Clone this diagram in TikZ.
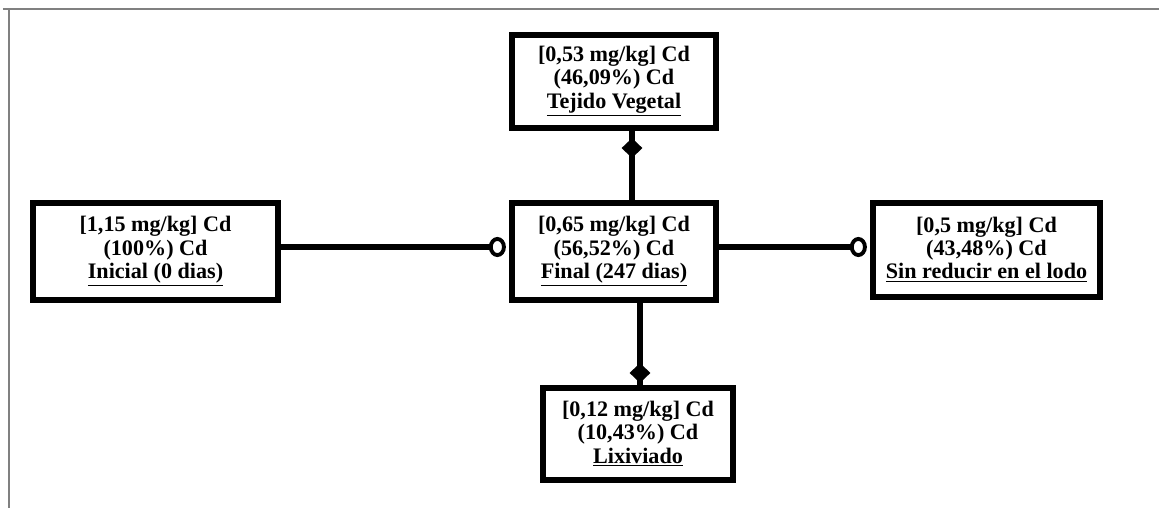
\documentclass[tikz,border=0pt]{standalone}
\usepackage{fontspec}
\setmainfont{Liberation Serif}
\usetikzlibrary{arrows.meta,shapes.geometric}
\begin{document}
\begin{tikzpicture}[>=latex,scale=1,
    caja/.style={draw,line width=3pt,align=center,font=\bfseries\fontsize{12.6}{13.2}\selectfont,inner sep=2pt},
    enlace/.style={line width=3pt},
    punta/.style={diamond,fill=black,inner sep=0pt,minimum width=0.46cm,minimum height=0.44cm},
    anillo/.style={-{Circle[open,length=0.34cm,width=0.4cm,line width=2.2pt]},shorten >=2pt}]
        \useasboundingbox(0,0)rectangle(23.18,-10.16);
        \draw[gray,line width=1.2pt](0.06,-0.18)--(23.18,-0.18)(0.18,-0.18)--(0.18,-10.16);
        \node[caja,minimum width=4.08cm,minimum height=1.86cm](tejido)at(12.28,-1.63){[0,53 mg/kg] Cd\\(46,09\%) Cd\\\underline{Tejido Vegetal}};
        \node[caja,minimum width=4.9cm,minimum height=1.94cm](inicial)at(3.11,-5.03){[1,15 mg/kg] Cd\\(100\%) Cd\\\underline{Inicial (0 dias)}};
        \node[caja,minimum width=4.08cm,minimum height=1.94cm](final)at(12.28,-5.03){[0,65 mg/kg] Cd\\(56,52\%) Cd\\\underline{Final (247 dias)}};
        \node[caja,minimum width=4.54cm,minimum height=1.88cm](lodo)at(19.73,-5.0){[0,5 mg/kg] Cd\\(43,48\%) Cd\\\underline{Sin reducir en el lodo}};
        \node[caja,minimum width=3.8cm,minimum height=1.84cm](lixiviado)at(12.76,-8.68){[0,12 mg/kg] Cd\\(10,43\%) Cd\\\underline{Lixiviado}};
        \draw[enlace,anillo](inicial.east|-0,-4.94)--(final.west|-0,-4.94);
        \draw[enlace,anillo](final.east|-0,-4.94)--(lodo.west|-0,-4.94);
        \draw[enlace](final.north-|12.64,0)--node[punta,pos=0.75]{}(tejido.south-|12.64,0);
        \draw[enlace](final.south-|12.8,0)--node[punta,pos=0.85]{}(lixiviado.north-|12.8,0);
    \end{tikzpicture}
\end{document}
